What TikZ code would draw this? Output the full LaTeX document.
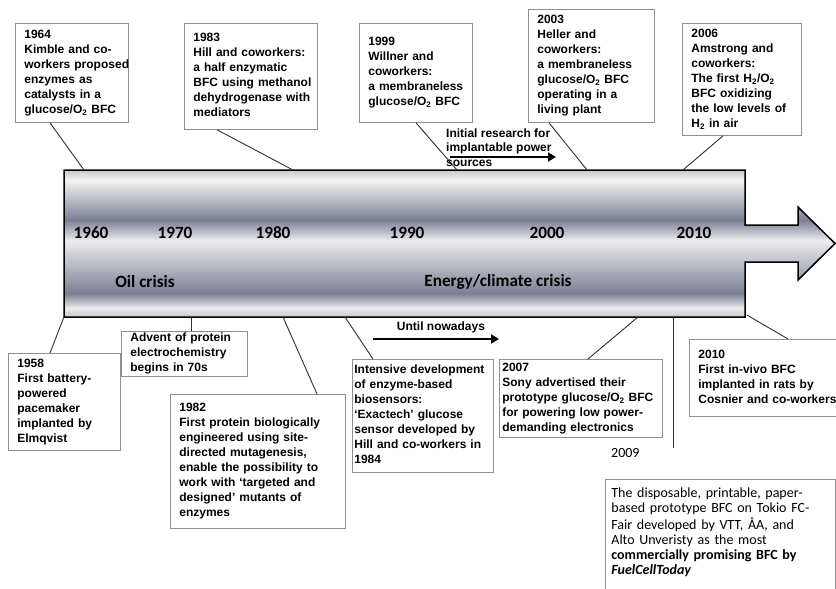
\documentclass[tikz,border=0pt]{standalone}
\usepackage{fontspec}
\setmainfont{Liberation Sans}
\newfontfamily\carl{Carlito}
\usetikzlibrary{arrows.meta}
\definecolor{boxgray}{HTML}{8F8F8F}
\definecolor{conn}{HTML}{303030}
\definecolor{bdark}{HTML}{7B7F94}
\definecolor{blight}{HTML}{ECECEE}
\definecolor{blight2}{HTML}{F4F4F4}
\definecolor{bedge}{HTML}{C8C8CC}
\pgfdeclareverticalshading{barshade}{100bp}{color(0bp)=(bedge); color(25bp)=(bedge); color(28bp)=(blight); color(33bp)=(bdark); color(51bp)=(blight); color(58bp)=(bdark); color(71.5bp)=(blight2); color(75bp)=(bedge); color(100bp)=(bedge)}
\newcommand{\Tb}[1]{\begin{tabular}{@{}l@{}}#1\end{tabular}}
\tikzset{
  box/.style={draw=boxgray, line width=0.8pt, fill=white, anchor=north west,
    inner ysep=0pt, inner xsep=9pt, align=left,
    font=\bfseries\fontsize{12}{15}\selectfont},
  yr/.style={font=\carl\bfseries\fontsize{17.2}{19}\selectfont, inner sep=0pt},
  conline/.style={draw=conn, line width=0.9pt},
  bigarr/.style={line width=2.4pt, -{Triangle[length=8pt,width=9pt]}},
}
\begin{document}
\begin{tikzpicture}[x=1pt,y=-1pt]
\useasboundingbox (0,0) rectangle (836,589);
\clip (0,0) rectangle (836,589);
\fill[white] (0,0) rectangle (836,589);

% timeline bar
\path[shading=barshade, draw=black, line width=1.5pt, line join=miter]
  (64,170) -- (745,170) -- (745,225) -- (798,225) -- (798,207) -- (835,243.5)
  -- (798,280) -- (798,262) -- (745,262) -- (745,317) -- (64,317) -- cycle;

\node[yr] (y1960) at (91,233) {1960};
\node[yr] (y1970) at (175,233) {1970};
\node[yr] (y1980) at (273,233) {1980};
\node[yr] (y1990) at (407,233) {1990};
\node[yr] (y2000) at (547,233) {2000};
\node[yr] (y2010) at (694,233) {2010};
\node[yr] (oil) at (145,282) {Oil crisis};
\node[yr] (energy) at (498,282) {Energy/climate crisis};

% bar edge points
\coordinate (k1964) at (84,170);
\coordinate (k1983) at (293,170);
\coordinate (k1999) at (457,170);
\coordinate (k2003) at (587,170);
\coordinate (k2006) at (683,170);
\coordinate (k1958) at (64,317);
\coordinate (kadv) at (191,317);
\coordinate (k1982) at (283,317);
\coordinate (kint) at (345,317);
\coordinate (k2007) at (638,317);
\coordinate (k2009) at (673,317);
\coordinate (e2009) at (673,448);
\coordinate (k2010) at (747,315);

% top boxes
\node[box, text width=95pt, minimum height=99pt] (b1964) at (15,23)
  {\Tb{1964\\Kimble and co-\\workers proposed\\enzymes as\\catalysts in a\\glucose/O\textsubscript{2} BFC}};
\node[box, text width=115pt, minimum height=106pt] (b1983) at (184,23)
  {\Tb{1983\\Hill and coworkers:\\a half enzymatic\\BFC using methanol\\dehydrogenase with\\mediators}};
\node[box, text width=95pt, minimum height=99pt] (b1999) at (359,23)
  {\Tb{1999\\Willner and\\coworkers:\\a membraneless\\glucose/O\textsubscript{2} BFC}};
\node[box, text width=108pt, minimum height=113pt] (b2003) at (528,9)
  {\Tb{2003\\Heller and\\coworkers:\\a membraneless\\glucose/O\textsubscript{2} BFC\\operating in a\\living plant}};
\node[box, text width=101pt, minimum height=112pt] (b2006) at (682,23)
  {\Tb{2006\\Amstrong and\\coworkers:\\The first H\textsubscript{2}/O\textsubscript{2}\\BFC oxidizing\\the low levels of\\H\textsubscript{2} in air}};

% bottom boxes
\node[box, text width=94pt, minimum height=97pt] (b1958) at (8,353)
  {\Tb{1958\\First battery-\\powered\\pacemaker\\implanted by\\Elmqvist}};
\node[box, text width=108pt, minimum height=42pt] (badv) at (121,331)
  {\Tb{Advent of protein\\electrochemistry\\begins in 70s}};
\node[box, text width=157pt, minimum height=134pt] (b1982) at (170,394)
  {\Tb{1982\\First protein biologically\\engineered using site-\\directed mutagenesis,\\enable the possibility to\\work with ‘targeted and\\designed’ mutants of\\enzymes}};
\node[box, inner xsep=2pt, text width=137pt, minimum height=113pt] (bint) at (352,359)
  {\Tb{Intensive development\\of enzyme-based\\biosensors:\\‘Exactech’ glucose\\sensor developed by\\Hill and co-workers in\\1984}};
\node[box, inner xsep=3pt, text width=157pt, minimum height=78pt] (b2007) at (499,359)
  {\Tb{2007\\Sony advertised their\\prototype glucose/O\textsubscript{2} BFC\\for powering low power-\\demanding electronics}};
\node[box, text width=142pt, minimum height=77pt] (b2010) at (689,339)
  {\Tb{2010\\First in-vivo BFC\\implanted in rats by\\Cosnier and co-workers}};
\node[draw=boxgray, line width=0.8pt, fill=white, anchor=north west, inner xsep=6pt,
  inner ysep=8pt, align=left, text width=218pt, font=\carl\fontsize{14}{15}\selectfont] (b2009) at (605,479)
  {\Tb{The disposable, printable, paper-\\based prototype BFC on Tokio FC-\\Fair developed by VTT, ÅA, and\\Alto Unveristy as the most\\\textbf{commercially promising BFC by}\\\textbf{\textit{FuelCellToday}}\\ \\ }};
\node[anchor=west, inner sep=0pt, font=\carl\fontsize{14}{15}\selectfont] (l2009) at (611,453) {2009};

% connectors
\draw[conline] ([xshift=35pt]b1964.south west) -- (k1964);
\draw[conline] ([xshift=33pt]b1983.south west) -- (k1983);
\draw[conline] ([xshift=57pt]b1999.south west) -- (k1999);
\draw[conline] ([xshift=21pt]b2003.south west) -- (k2003);
\draw[conline] ([xshift=41pt]b2006.south west) -- (k2006);
\draw[conline] ([xshift=42pt]b1958.north west) -- (k1958);
\draw[conline] ([xshift=70pt]badv.north west) -- (kadv);
\draw[conline] ([xshift=147pt]b1982.north west) -- (k1982);
\draw[conline] ([xshift=21pt]bint.north west) -- (kint);
\draw[conline] ([xshift=89pt]b2007.north west) -- (k2007);
\draw[conline] ([xshift=99pt]b2010.north west) -- (k2010);
\draw[conline] (k2009) -- (e2009);

% annotation arrows
\node[anchor=north west, inner sep=0pt, font=\bfseries\fontsize{12}{14.5}\selectfont] (tinit) at (446,127)
  {\Tb{Initial research for\\implantable power\\sources}};
\coordinate (ia) at (450,157);
\coordinate (ib) at (556,157);
\draw[bigarr] (ia) -- (ib);
\node[inner sep=0pt, font=\bfseries\fontsize{12}{14}\selectfont] (tuntil) at (441,327) {Until nowadays};
\coordinate (ua) at (373,339);
\coordinate (ub) at (499,339);
\draw[bigarr] (ua) -- (ub);
\end{tikzpicture}
\end{document}
